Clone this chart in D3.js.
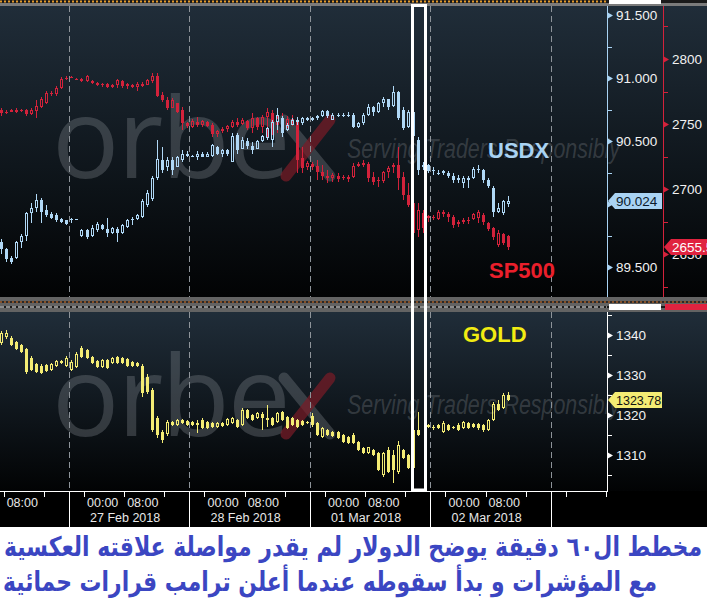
<!DOCTYPE html>
<html>
<head>
<meta charset="utf-8">
<script src="https://cdn.jsdelivr.net/npm/d3@7"></script>
<style>
  body { margin: 0; background: #fff; }
  svg { display: block; }
</style>
</head>
<body>
<div id="chart"></div>
<script>
// hourly candles, first bar opens 26 Feb 2018 07:00 UTC
var firstBar = "2018-02-26T07:00:00Z";

// [open, high, low, close]
var usdx = [
  [89.70,89.72,89.60,89.64],[89.64,89.65,89.54,89.56],[89.57,89.59,89.52,89.54],[89.57,89.71,89.56,89.70],
  [89.70,89.76,89.65,89.75],[89.75,89.94,89.71,89.93],[89.93,90.01,89.85,89.97],[89.97,90.08,89.94,90.03],
  [90.03,90.05,89.85,89.94],[89.95,89.99,89.90,89.91],[89.92,89.94,89.88,89.89],[89.91,89.93,89.86,89.87],
  [89.88,89.89,89.85,89.86],[89.87,89.87,89.83,89.84],[89.87,89.89,89.85,89.88],[89.88,89.88,89.87,89.88],
  [89.75,89.80,89.74,89.79],[89.79,89.80,89.72,89.74],[89.75,89.83,89.74,89.81],[89.79,89.86,89.78,89.84],
  [89.83,89.84,89.79,89.80],[89.80,89.89,89.74,89.77],[89.77,89.82,89.76,89.81],[89.80,89.82,89.70,89.77],
  [89.77,89.84,89.76,89.83],[89.82,89.88,89.81,89.87],[89.87,89.90,89.83,89.88],[89.88,89.92,89.87,89.91],
  [89.90,90.04,89.89,90.02],[89.99,90.11,89.98,90.09],[90.04,90.22,90.02,90.21],[90.21,90.51,90.19,90.36],
  [90.35,90.45,90.25,90.27],[90.29,90.37,90.26,90.35],[90.35,90.37,90.23,90.27],[90.29,90.38,90.29,90.37],
  [90.35,90.43,90.33,90.40],[90.40,90.42,90.37,90.38],[90.38,90.39,90.37,90.38],[90.37,90.42,90.35,90.40],
  [90.40,90.41,90.37,90.37],[90.37,90.41,90.37,90.40],[90.38,90.48,90.37,90.47],[90.45,90.46,90.39,90.40],
  [90.40,90.44,90.37,90.43],[90.43,90.44,90.38,90.40],[90.33,90.56,90.33,90.54],[90.55,90.56,90.40,90.43],
  [90.44,90.53,90.44,90.51],[90.50,90.52,90.44,90.46],[90.46,90.49,90.40,90.43],[90.44,90.51,90.44,90.50],
  [90.50,90.55,90.49,90.54],[90.52,90.61,90.51,90.60],[90.51,90.67,90.45,90.65],[90.65,90.76,90.59,90.71],
  [90.68,90.70,90.53,90.56],[90.59,90.64,90.58,90.63],[90.63,90.68,90.63,90.67],[90.67,90.69,90.63,90.65],
  [90.64,90.69,90.63,90.68],[90.68,90.69,90.66,90.67],[90.67,90.69,90.66,90.68],[90.68,90.71,90.67,90.70],
  [90.70,90.75,90.69,90.74],[90.74,90.75,90.68,90.70],[90.67,90.72,90.67,90.71],[90.71,90.72,90.69,90.70],
  [90.70,90.72,90.69,90.71],[90.71,90.73,90.69,90.70],[90.71,90.72,90.60,90.61],[90.61,90.65,90.60,90.64],
  [90.64,90.72,90.63,90.71],[90.71,90.79,90.70,90.77],[90.77,90.78,90.70,90.73],[90.73,90.81,90.72,90.80],
  [90.80,90.85,90.77,90.83],[90.83,90.83,90.75,90.77],[90.78,90.94,90.77,90.89],[90.89,90.90,90.67,90.68],
  [90.75,90.77,90.59,90.60],[90.61,90.75,90.60,90.73],[90.73,90.80,90.47,90.54],[90.51,90.53,90.23,90.27],
  [90.29,90.33,90.27,90.31],[90.31,90.32,90.25,90.26],[90.26,90.29,90.23,90.27],[90.25,90.27,90.23,90.25],
  [90.25,90.27,90.23,90.26],[90.25,90.26,90.21,90.22],[90.22,90.25,90.17,90.19],[90.19,90.23,90.17,90.21],
  [90.17,90.22,90.13,90.21],[90.21,90.22,90.13,90.19],[90.21,90.29,90.20,90.28],[90.28,90.31,90.25,90.27],
  [90.27,90.28,90.17,90.19],[90.19,90.21,90.13,90.14],[90.13,90.14,89.90,89.94],[89.94,90.01,89.93,89.97],
  [89.93,90.03,89.91,90.02],[90.00,90.06,89.98,90.024]
];

var sp500 = [
  [2760.8,2762.3,2756.2,2758.5],[2758.5,2760.8,2757.7,2759.2],[2759.2,2761.5,2759.2,2760.8],[2760.8,2762.3,2758.5,2759.2],
  [2760.0,2761.5,2759.2,2760.8],[2760.8,2761.5,2756.2,2757.7],[2757.7,2762.3,2756.9,2760.8],[2760.0,2768.5,2754.6,2763.8],
  [2763.1,2770.8,2762.3,2769.2],[2766.2,2775.4,2765.4,2773.8],[2773.8,2775.4,2771.5,2773.1],[2773.1,2779.2,2771.5,2777.7],
  [2777.7,2786.2,2776.9,2784.6],[2784.6,2786.9,2783.8,2785.4],[2785.4,2786.9,2785.4,2786.2],[2784.6,2785.4,2783.8,2784.6],
  [2784.6,2785.4,2782.3,2783.1],[2783.1,2787.7,2782.3,2786.9],[2783.1,2783.8,2780.8,2781.5],[2781.5,2782.3,2779.2,2780.0],
  [2780.0,2781.5,2778.5,2780.8],[2780.8,2781.5,2777.7,2778.5],[2778.5,2780.8,2777.7,2780.0],[2780.0,2784.6,2777.7,2783.8],
  [2783.1,2783.8,2777.7,2779.2],[2779.2,2781.5,2776.9,2780.8],[2780.0,2780.8,2777.7,2778.5],[2778.5,2782.3,2775.4,2780.8],
  [2780.8,2782.3,2778.5,2779.2],[2780.0,2784.6,2780.0,2783.8],[2783.1,2789.2,2781.5,2786.9],[2786.9,2789.2,2770.8,2771.5],
  [2772.3,2774.6,2766.9,2768.5],[2768.5,2770.8,2760.8,2762.3],[2762.3,2770.0,2762.3,2768.5],[2766.2,2766.2,2758.5,2759.2],
  [2760.8,2763.1,2745.4,2750.8],[2750.8,2751.5,2746.9,2748.5],[2747.7,2753.8,2746.9,2752.3],[2751.5,2755.4,2747.7,2749.2],
  [2749.2,2753.1,2747.7,2752.3],[2751.5,2752.3,2747.7,2748.5],[2749.2,2750.8,2740.0,2742.3],[2742.3,2745.4,2740.0,2744.6],
  [2744.6,2747.7,2743.1,2746.2],[2746.2,2749.2,2743.8,2748.5],[2747.7,2753.1,2746.9,2751.5],[2751.5,2754.6,2747.7,2749.2],
  [2750.0,2754.6,2749.2,2753.1],[2752.3,2753.1,2745.4,2746.9],[2746.9,2758.5,2743.1,2754.6],[2754.6,2755.4,2745.4,2747.7],
  [2747.7,2756.9,2743.1,2755.4],[2755.4,2762.3,2739.2,2759.2],[2758.5,2760.8,2741.5,2749.2],[2749.2,2758.5,2743.1,2754.6],
  [2753.1,2758.5,2740.0,2746.9],[2747.7,2756.2,2746.9,2753.8],[2753.8,2756.9,2748.5,2750.8],[2751.5,2754.6,2712.3,2722.3],
  [2723.8,2732.3,2712.3,2716.2],[2716.9,2721.5,2714.6,2720.0],[2719.2,2720.8,2714.6,2716.9],[2717.7,2722.3,2706.9,2713.1],
  [2713.1,2718.5,2706.9,2710.0],[2710.0,2714.6,2704.6,2708.5],[2708.5,2712.3,2705.4,2710.8],[2710.0,2712.3,2705.4,2707.7],
  [2708.5,2710.8,2706.9,2709.2],[2709.2,2710.8,2705.4,2707.7],[2709.2,2720.0,2708.5,2717.7],[2717.7,2720.8,2716.9,2719.2],
  [2718.5,2722.3,2716.9,2720.0],[2719.2,2720.8,2705.4,2708.5],[2709.2,2713.1,2703.1,2705.4],[2706.2,2709.2,2701.5,2706.9],
  [2706.2,2713.8,2704.6,2713.1],[2713.1,2717.7,2708.5,2716.2],[2716.9,2720.0,2712.3,2718.5],[2718.5,2732.3,2699.2,2708.5],
  [2709.2,2713.1,2691.5,2695.4],[2695.4,2704.6,2686.2,2687.7],[2689.2,2691.5,2658.5,2666.2],[2668.5,2689.2,2663.1,2683.8],
  [2681.5,2683.8,2666.2,2670.0],[2677.7,2680.0,2674.6,2679.2],[2678.5,2680.0,2676.2,2677.7],[2676.9,2683.8,2676.2,2682.3],
  [2682.3,2683.8,2678.5,2680.8],[2680.8,2682.3,2674.6,2678.5],[2678.5,2680.0,2670.0,2672.3],[2673.1,2676.2,2670.8,2674.6],
  [2674.6,2677.7,2673.1,2676.2],[2676.2,2678.5,2673.1,2676.2],[2676.9,2681.5,2676.2,2680.8],[2677.7,2683.8,2673.8,2682.3],
  [2680.0,2681.5,2672.3,2674.6],[2673.8,2674.6,2667.7,2669.2],[2670.0,2670.8,2660.8,2663.1],[2656.9,2668.5,2655.4,2666.2],
  [2665.4,2666.2,2656.9,2658.5],[2663.8,2664.6,2653.1,2655.5]
];

var gold = [
  [1338,1341,1337.5,1340.5],[1339.5,1341.25,1339,1340.5],[1339.25,1339.75,1337.25,1337.5],[1338.25,1338.5,1336.25,1336.5],
  [1337.5,1337.75,1335.5,1335.75],[1336.5,1336.75,1330.25,1330.75],[1334.25,1334.75,1331,1331.25],[1332.75,1333,1330.5,1330.75],
  [1332.25,1332.75,1330.25,1330.5],[1332.5,1332.75,1330.75,1331],[1331.25,1333,1331,1332.75],[1332.25,1333.75,1332,1333.5],
  [1333,1333.75,1332.75,1333.5],[1332.25,1334.75,1332,1334.25],[1331.25,1333.75,1331,1333.25],[1332,1335.75,1331.75,1335.25],
  [1336.75,1337.25,1334.25,1334.5],[1336.25,1336.5,1334,1334.25],[1334.5,1334.75,1332.75,1333],[1333.5,1333.75,1331.75,1332],
  [1332,1334,1331.75,1333.75],[1333.75,1334,1331.5,1331.75],[1333,1334.5,1332.75,1334.25],[1334.5,1334.75,1332.75,1333],
  [1334.25,1334.5,1332.75,1333],[1334,1334.25,1332,1332.25],[1333.25,1333.5,1332,1332.25],[1333,1333.25,1332,1332.25],
  [1332.25,1332.75,1324.5,1325.5],[1329.5,1330.25,1325.25,1325.75],[1326.25,1326.75,1315.75,1316.25],[1319.25,1319.75,1314.25,1315],
  [1315.75,1316.25,1313,1313.75],[1315.25,1318.75,1314.75,1318.25],[1318.25,1318.5,1317.25,1317.5],[1317.5,1319,1317.25,1318.75],
  [1318.75,1319,1317.75,1318],[1318.5,1318.75,1317.25,1317.5],[1318.25,1318.5,1317.25,1317.5],[1318,1318.75,1315.5,1317.5],
  [1318.75,1319.25,1316.5,1316.75],[1318.25,1318.5,1316.5,1316.75],[1318,1318.25,1316.75,1317],[1317,1318.25,1316.75,1318],
  [1318,1318.25,1317,1317.25],[1317.5,1319.25,1317.25,1319],[1318,1319.5,1317.75,1319.25],[1318.75,1319,1316.75,1317],
  [1317.5,1321.75,1317.25,1321.25],[1321.25,1321.5,1319,1319.25],[1320,1320.25,1318.5,1318.75],[1319.25,1320.75,1319,1320.5],
  [1320.25,1320.75,1316.25,1319.25],[1318.75,1322.5,1317,1319.25],[1319.25,1319.5,1317.25,1317.5],[1318.25,1320.75,1318,1320.5],
  [1320.75,1321,1318.5,1318.75],[1319.5,1319.75,1316.5,1316.75],[1319.25,1319.5,1317.25,1317.5],[1318.75,1319,1316.75,1317],
  [1318.5,1318.75,1317.25,1317.5],[1318.25,1318.5,1317.75,1318],[1319.75,1320.5,1317,1317.5],[1318,1318.25,1314.75,1315],
  [1314.5,1317,1314.25,1316.75],[1316.25,1316.5,1314.75,1315],[1315.75,1316,1314.5,1314.75],[1315.75,1316,1314,1314.25],
  [1315,1315.25,1313,1313.25],[1314.5,1314.75,1312.75,1313],[1315,1315.5,1312.75,1313],[1313.25,1313.5,1311,1311.25],
  [1311.75,1312,1310.25,1310.5],[1310.5,1312,1310.25,1312],[1311.25,1311.5,1309.75,1310],[1310.5,1310.75,1306,1306.25],
  [1305,1310.75,1304.5,1310.5],[1311.25,1312,1305.5,1305.75],[1310,1311.25,1303,1306.25],[1305.75,1313.5,1305.25,1312.5],
  [1311.25,1311.5,1309,1309.25],[1310,1310.25,1306.5,1306.75],[1306.75,1316.75,1306.5,1316.25],[1316.25,1320.75,1314.75,1315],
  null,[1317.5,1317.75,1316.75,1317],[1317,1317.5,1316.25,1317],[1317.5,1317.75,1316.5,1316.75],
  [1315.75,1318.5,1315.5,1318],[1317.5,1317.75,1316,1316.25],[1317,1317.25,1316.5,1317],[1317.5,1318,1316,1316.25],
  [1316.75,1318.5,1316.5,1318.25],[1318,1318.25,1316.5,1316.75],[1317.75,1318,1316.75,1317],[1317.75,1318,1316.25,1316.75],
  [1317.5,1317.75,1315.75,1316.25],[1316.25,1319,1316,1318.75],[1318.75,1323.25,1318.5,1322.75],[1322.75,1323.75,1321,1321.25],
  [1321.75,1325.5,1321.5,1325],[1325,1325.75,1323.5,1323.78]
];

var usdxTicks = [89.5, 90.0, 90.5, 91.0, 91.5];
var usdxMinor = [89.75, 90.25, 90.75, 91.25];
var spTicks = [2650, 2700, 2750, 2800];
var spMinor = [2625, 2675, 2725, 2775, 2825];
var goldTicks = [1310, 1320, 1330, 1340];
var goldMinor = [1305, 1315, 1325, 1335, 1345];

var lastUsdx = "90.024", lastSp = "2655.5", lastGold = "1323.78";
var seriesLabels = ["USDX", "SP500", "GOLD"];
var watermark = ["orbe", "Serving Traders Responsibly"];
var caption = [
  "مخطط ال٦٠ دقيقة يوضح الدولار لم يقدر مواصلة علاقته العكسية",
  "مع المؤشرات و بدأ سقوطه عندما أعلن ترامب  قرارات حمائية"
];

var W = 707, H = 605;
var plotRight = 607;
var HOUR = 3600e3;
var t0 = Date.parse(firstBar);
var midnight = Date.parse("2018-02-27T00:00:00Z");
var pxPerHour = 5.02;

var x = d3.scaleUtc()
    .domain([new Date(midnight - 84 / pxPerHour * HOUR), new Date(midnight + (plotRight - 84) / pxPerHour * HOUR)])
    .range([0, plotRight]);

var top1 = 6, bot1 = 297, top2 = 312, bot2 = 491;

var yUsdx = d3.scaleLinear().domain([89.5, 91.5]).range([267, 15]);
var ySp = d3.scaleLinear().domain([2650, 2800]).range([254, 59]);
var yGold = d3.scaleLinear().domain([1310, 1340]).range([455, 335]);

var font = "'Liberation Sans', Arial, sans-serif";

var svg = d3.select("#chart").append("svg")
    .attr("width", W)
    .attr("height", H);

var defs = svg.append("defs");
var grad = defs.append("linearGradient")
    .attr("id", "panelGrad")
    .attr("x1", 0).attr("y1", 0).attr("x2", 0).attr("y2", 1);
grad.append("stop").attr("offset", "0%").attr("stop-color", "#202d39");
grad.append("stop").attr("offset", "55%").attr("stop-color", "#0f161c");
grad.append("stop").attr("offset", "100%").attr("stop-color", "#020304");

defs.append("clipPath").attr("id", "clipTop")
  .append("rect").attr("x", 0).attr("y", top1).attr("width", plotRight).attr("height", bot1 - top1);
defs.append("clipPath").attr("id", "clipBot")
  .append("rect").attr("x", 0).attr("y", top2).attr("width", plotRight).attr("height", bot2 - top2);

// backgrounds
svg.append("rect").attr("width", W).attr("height", 527).attr("fill", "#000");
svg.append("rect").attr("y", 527).attr("width", W).attr("height", H - 527).attr("fill", "#fff");
svg.append("rect").attr("x", 0).attr("y", top1).attr("width", W).attr("height", bot1 - top1).attr("fill", "url(#panelGrad)");
svg.append("rect").attr("x", 0).attr("y", top2).attr("width", W).attr("height", bot2 - top2).attr("fill", "url(#panelGrad)");

// top strip
svg.append("rect").attr("x", 0).attr("y", 0).attr("width", W).attr("height", 3).attr("fill", "#1a1a1a");
svg.append("line").attr("x1", 0).attr("x2", plotRight).attr("y1", 1.5).attr("y2", 1.5)
    .attr("stroke", "#e49a2c").attr("stroke-width", 2).attr("stroke-dasharray", "2,2");
svg.append("rect").attr("x", 0).attr("y", 3).attr("width", W).attr("height", 3).attr("fill", "#7b7b7b");
svg.append("rect").attr("x", 609).attr("y", 0).attr("width", 52).attr("height", 4).attr("fill", "#fff");

// separator band between the panels
svg.append("rect").attr("x", 0).attr("y", bot1).attr("width", W).attr("height", top2 - bot1).attr("fill", "#636363");
svg.append("rect").attr("x", 0).attr("y", 301).attr("width", W).attr("height", 2).attr("fill", "#2a2a2a");
svg.append("line").attr("x1", 0).attr("x2", W).attr("y1", 302).attr("y2", 302)
    .attr("stroke", "#e0782a").attr("stroke-dasharray", "2,2");
svg.append("rect").attr("x", 0).attr("y", 306).attr("width", W).attr("height", 2).attr("fill", "#1a1a1a");
svg.append("line").attr("x1", 0).attr("x2", plotRight).attr("y1", 307).attr("y2", 307)
    .attr("stroke", "#ffffff").attr("stroke-dasharray", "4,2");
svg.append("rect").attr("x", 609).attr("y", 304).attr("width", 52).attr("height", 6).attr("fill", "#fff");
svg.append("rect").attr("x", 665).attr("y", 304).attr("width", 42).attr("height", 6).attr("fill", "#e0233f");

// watermarks
function drawWatermark(baseline, tagBaseline, clip) {
  var g = svg.append("g");
  var logo = g.append("g").attr("clip-path", clip);
  logo.append("text")
      .attr("x", 52).attr("y", baseline)
      .attr("font-family", "'Open Sans', 'Noto Sans', sans-serif")
      .attr("font-size", 112)
      .attr("letter-spacing", -2)
      .attr("fill", "#8a8f94").attr("fill-opacity", 0.32)
      .text(watermark[0]);
  logo.append("line")
      .attr("x1", 284).attr("y1", baseline - 58).attr("x2", 330).attr("y2", baseline - 2)
      .attr("stroke", "#8a8f94").attr("stroke-opacity", 0.32).attr("stroke-width", 11).attr("stroke-linecap", "round");
  logo.append("line")
      .attr("x1", 286).attr("y1", baseline - 2).attr("x2", 330).attr("y2", baseline - 58)
      .attr("stroke", "#7a1b26").attr("stroke-opacity", 0.7).attr("stroke-width", 11).attr("stroke-linecap", "round");
  g.append("text")
      .attr("x", 347).attr("y", tagBaseline)
      .attr("font-family", font)
      .attr("font-style", "italic")
      .attr("font-size", 27)
      .attr("textLength", 273).attr("lengthAdjust", "spacingAndGlyphs")
      .attr("fill", "#8a8f94").attr("fill-opacity", 0.3)
      .text(watermark[1]);
}
drawWatermark(178, 158, "url(#clipTop)");
drawWatermark(436, 414, "url(#clipBot)");

// day separators (trading day starts 21:00 UTC)
var dayBreaks = d3.utcHours(x.domain()[0], x.domain()[1]).filter(function(d) { return d.getUTCHours() === 21; });
[[top1, bot1], [top2, bot2]].forEach(function(p) {
  svg.append("g").selectAll("line").data(dayBreaks).join("line")
      .attr("x1", function(d) { return Math.round(x(d)) + 0.5; })
      .attr("x2", function(d) { return Math.round(x(d)) + 0.5; })
      .attr("y1", p[0]).attr("y2", p[1])
      .attr("stroke", "#8d9399").attr("stroke-dasharray", "6,4");
});

// candles
function toRows(data) {
  return data.map(function(d, i) {
    return d && { t: new Date(t0 + (i + 0.5) * HOUR), o: d[0], h: d[1], l: d[2], c: d[3] };
  }).filter(Boolean);
}

function drawCandles(data, y, color, clip) {
  var g = svg.append("g").attr("clip-path", clip);
  var c = g.selectAll("g").data(toRows(data)).join("g")
      .attr("transform", function(d) { return "translate(" + Math.round(x(d.t)) + ",0)"; });
  c.each(function(d) {
    var s = d3.select(this);
    var yt = Math.round(y(Math.max(d.o, d.c)));
    var yb = Math.round(y(Math.min(d.o, d.c)));
    var yh = Math.round(y(d.h)), yl = Math.round(y(d.l));
    if (yb - yt < 1) yb = yt + 1;
    s.append("line").attr("x1", 0.5).attr("x2", 0.5).attr("y1", yh).attr("y2", yt).attr("stroke", color);
    s.append("line").attr("x1", 0.5).attr("x2", 0.5).attr("y1", yb).attr("y2", yl).attr("stroke", color);
    if (d.c > d.o && yb - yt > 2) {
      s.append("rect").attr("x", -0.5).attr("y", yt + 0.5).attr("width", 2).attr("height", yb - yt - 1)
          .attr("fill", "none").attr("stroke", color);
    } else {
      s.append("rect").attr("x", -1).attr("y", yt).attr("width", 3).attr("height", yb - yt)
          .attr("fill", color);
    }
  });
}

drawCandles(sp500, ySp, "#d3223b", "url(#clipTop)");
drawCandles(usdx, yUsdx, "#b0d8f6", "url(#clipTop)");
drawCandles(gold, yGold, "#f4ec74", "url(#clipBot)");

// series names
svg.append("text").attr("x", 488).attr("y", 158)
    .attr("font-family", font).attr("font-weight", "bold").attr("font-size", 22)
    .attr("fill", "#a9d3f3").text(seriesLabels[0]);
svg.append("text").attr("x", 489).attr("y", 278)
    .attr("font-family", font).attr("font-weight", "bold").attr("font-size", 22)
    .attr("fill", "#ea1f2b").text(seriesLabels[1]);
svg.append("text").attr("x", 463).attr("y", 342)
    .attr("font-family", font).attr("font-weight", "bold").attr("font-size", 22)
    .attr("fill", "#f2ec12").text(seriesLabels[2]);

// highlight box around the announcement
svg.append("rect")
    .attr("x", 412.5).attr("y", 5.5).attr("width", 13).attr("height", 484.5)
    .attr("fill", "none").attr("stroke", "#fff").attr("stroke-width", 3);

// right-hand axes
function rightAxis(xPos, y, ticks, minor, fmt, color, y0, y1) {
  var g = svg.append("g").attr("transform", "translate(" + xPos + ",0)");
  g.append("line").attr("x1", 0.5).attr("x2", 0.5).attr("y1", y0).attr("y2", y1).attr("stroke", color);
  g.selectAll("line.minor").data(minor.filter(function(v) { return y(v) > y0 && y(v) < y1; })).join("line")
      .attr("class", "minor")
      .attr("x1", 0).attr("x2", 5)
      .attr("y1", function(v) { return Math.round(y(v)) + 0.5; })
      .attr("y2", function(v) { return Math.round(y(v)) + 0.5; })
      .attr("stroke", color);
  var axis = d3.axisRight(y).tickValues(ticks).tickSize(0).tickPadding(9).tickFormat(fmt);
  var a = g.append("g").call(axis);
  a.select(".domain").remove();
  a.selectAll(".tick text")
      .attr("fill", "#f2f2f2")
      .attr("font-family", font)
      .attr("font-size", 13.5);
  a.selectAll(".tick").append("path")
      .attr("d", "M0,-3.5L6,0L0,3.5Z")
      .attr("fill", color);
}

rightAxis(607, yUsdx, usdxTicks, usdxMinor, d3.format(".3f"), "#a9d3f3", top1, bot1);
rightAxis(663, ySp, spTicks, spMinor, d3.format("d"), "#d3223b", top1, bot1);
rightAxis(607, yGold, goldTicks, goldMinor, d3.format("d"), "#ffffff", top2, bot2 + 1);

// last value flags
function flag(x0, x1, yc, fill, textFill, label, size) {
  var yy = Math.round(yc);
  svg.append("path")
      .attr("d", "M" + x0 + "," + yy + "L" + (x0 + 7) + "," + (yy - 8) + "L" + x1 + "," + (yy - 8) +
                 "L" + x1 + "," + (yy + 8) + "L" + (x0 + 7) + "," + (yy + 8) + "Z")
      .attr("fill", fill);
  svg.append("text")
      .attr("x", x0 + 8).attr("y", yy + 5)
      .attr("font-family", font).attr("font-size", size)
      .attr("fill", textFill)
      .text(label);
}
flag(608, 662, yUsdx(+lastUsdx), "#a9d3f3", "#0b1a2a", lastUsdx, 13.5);
flag(664, 712, ySp(+lastSp), "#e0233f", "#ffffff", lastSp, 13.5);
flag(608, 662, yGold(+lastGold), "#f4ec74", "#111", lastGold, 12.5);

// bottom border of the lower panel
svg.append("line").attr("x1", 0).attr("x2", plotRight + 1).attr("y1", bot2 + 0.5).attr("y2", bot2 + 0.5).attr("stroke", "#fff");

// time axis
var lastTime = new Date(t0 + usdx.length * HOUR);
var tickTimes = x.ticks(d3.utcHour.every(8));
var xa = svg.append("g").attr("transform", "translate(0," + (bot2 + 1) + ")");
xa.selectAll("line.tk").data(tickTimes).join("line")
    .attr("class", "tk")
    .attr("x1", function(d) { return Math.round(x(d)) + 0.5; })
    .attr("x2", function(d) { return Math.round(x(d)) + 0.5; })
    .attr("y1", 0).attr("y2", 5)
    .attr("stroke", "#fff");
xa.selectAll("line.day").data(dayBreaks).join("line")
    .attr("class", "day")
    .attr("x1", function(d) { return Math.round(x(d)) + 0.5; })
    .attr("x2", function(d) { return Math.round(x(d)) + 0.5; })
    .attr("y1", 0).attr("y2", 35)
    .attr("stroke", "#fff");
var labelled = tickTimes.filter(function(d) { return d.getUTCHours() !== 16 && d <= lastTime; });
xa.selectAll("text.hr").data(labelled).join("text")
    .attr("class", "hr")
    .attr("x", function(d) { return x(d) + 3; })
    .attr("y", 15)
    .attr("font-family", font).attr("font-size", 12.5)
    .attr("fill", "#e8e8e8")
    .text(d3.utcFormat("%H:%M"));
xa.selectAll("text.dt").data(labelled.filter(function(d) { return d.getUTCHours() === 0; })).join("text")
    .attr("class", "dt")
    .attr("x", function(d) { return x(d) + 6; })
    .attr("y", 30)
    .attr("font-family", font).attr("font-size", 12.5)
    .attr("fill", "#e8e8e8")
    .text(d3.utcFormat("%d %b %Y"));

// caption
var cap = svg.append("g")
    .attr("font-family", "'DejaVu Sans', sans-serif")
    .attr("font-weight", "bold")
    .attr("font-size", 27)
    .attr("fill", "#3b46c2");
cap.append("text")
    .attr("x", 702).attr("y", 556)
    .attr("direction", "rtl")
    .attr("textLength", 698).attr("lengthAdjust", "spacingAndGlyphs")
    .text(caption[0]);
cap.append("text")
    .attr("x", 657).attr("y", 591)
    .attr("direction", "rtl")
    .attr("textLength", 654).attr("lengthAdjust", "spacingAndGlyphs")
    .text(caption[1]);
</script>
</body>
</html>
